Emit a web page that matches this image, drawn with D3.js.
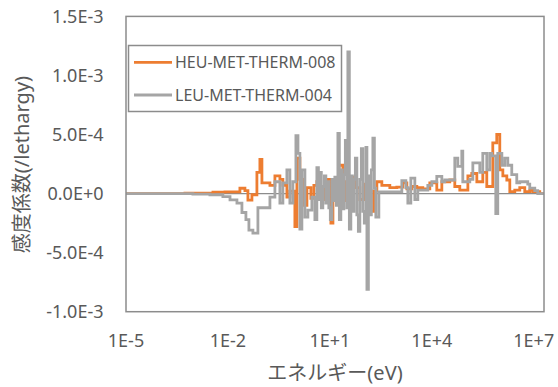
<!DOCTYPE html>
<html><head><meta charset="utf-8">
<script src="https://cdn.jsdelivr.net/npm/d3@7"></script>
<style>
body{margin:0;background:#fff;}
svg{display:block;}
text{font-family:"Noto Sans","Noto Sans CJK JP",sans-serif;fill:#595959;}
</style></head>
<body><svg id="c" width="558" height="387"></svg>
<script>
const seriesNames = ["HEU-MET-THERM-008", "LEU-MET-THERM-004"];
const xTickValues = [1e-5, 1e-2, 1e1, 1e4, 1e7];
const xTickLabels = ["1E-5", "1E-2", "1E+1", "1E+4", "1E+7"];
const yTickValues = [-1e-3, -5e-4, 0, 5e-4, 1e-3, 1.5e-3];
const yTickLabels = ["-1.0E-3", "-5.0E-4", "0.0E+0", "5.0E-4", "1.0E-3", "1.5E-3"];
const xTitle = "エネルギー(eV)";
const yTitle = "感度係数(/lethargy)";
const eMax = 2e7;

// HEU-MET-THERM-008: lower group energy (eV) and sensitivity per lethargy
const heuE = [1e-5,5.43e-4,3.62e-3,8.15e-3,2.25e-2,3.16e-2,3.87e-2,5.08e-2,7.12e-2,8.72e-2,
  0.1,0.172,0.241,0.338,0.414,0.543,0.665,0.933,1.07,1.31,1.61,2.11,2.76,3.38,4.14,4.74,7.12,8.72,
  10.7,12.3,15.0,18.4,24.1,29.5,38.7,47.4,58.1,76.2,100,131,161,197,241,338,581,933,
  1.4e3,1.84e3,2.58e3,3.62e3,5.43e3,8.72e3,1.4e4,1.97e4,3.38e4,4.74e4,6.65e4,1.15e5,1.5e5,2.11e5,
  3.16e5,4.14e5,6.22e5,8.15e5,1e6,1.23e6,1.61e6,1.97e6,2.76e6,3.87e6,5.43e6,7.62e6,9.33e6,1.5e7];
const heuV = [0,4e-6,1.2e-5,1.5e-5,4.5e-5,2.5e-5,-5.5e-5,-1e-5,1.8e-4,2.9e-4,
  9e-5,7e-5,1.5e-4,1.2e-4,7e-5,-3e-5,2e-5,-2.8e-4,3e-4,1.2e-4,-1e-4,5e-5,-4e-5,7e-5,1e-4,6e-5,-5e-5,1.2e-4,
  -2.5e-4,5e-5,-4e-5,2.4e-4,-6e-5,1e-4,-1e-4,1.4e-4,5e-5,-5e-5,8e-5,3e-5,-1.5e-4,2e-5,1e-4,7e-5,5e-5,5.5e-5,
  9e-5,4e-5,6e-5,5e-5,4e-5,9e-5,3e-5,1e-4,1.15e-4,6e-5,3e-5,1.5e-4,1.7e-4,1e-4,
  1.8e-4,6e-5,4.3e-4,5e-4,2e-4,1.5e-4,1.15e-4,1.6e-5,3e-5,5e-5,1.6e-5,3e-5,1.6e-5,0];

// LEU-MET-THERM-004
const leuE = [1e-5,9.3e-4,2.95e-3,7.1e-3,1.15e-2,1.84e-2,2.58e-2,3.38e-2,4.14e-2,5.43e-2,7.62e-2,
  0.172,0.241,0.338,0.414,0.543,0.665,0.815,1.0,1.15,1.31,1.5,1.84,2.25,2.95,3.62,
  4.14,4.6,5.1,5.6,6.2,6.9,7.6,8.4,9.3,10.3,11.5,12.7,14,15.5,17.2,19,21,23.3,25.8,28.5,31.6,33.8,37.4,
  41.4,45.9,50.8,56.2,62.2,68.8,76.2,84.3,93.3,103,115,123,136,150,166,184,204,225,276,
  1.31e3,1.72e3,1.97e3,2.41e3,3.16e3,3.87e3,7.62e3,1e4,1.4e4,1.97e4,2.41e4,4.74e4,5.81e4,7.62e4,8.15e4,
  1.31e5,1.61e5,2.58e5,3.16e5,4.14e5,5.08e5,5.81e5,7.62e5,8.72e5,1.15e6,1.4e6,1.72e6,2.25e6,3.16e6,3.87e6,6.65e6,7.62e6,1.07e7,1.31e7];
const leuV = [0,-4e-6,-1e-5,-2.6e-5,-5.4e-5,-8e-5,-1.6e-4,-2.2e-4,-3.1e-4,-3.35e-4,-1.2e-4,
  -3e-5,1e-4,-8e-5,9e-5,2e-4,-8e-5,1e-4,4.9e-4,3.4e-4,-3e-4,2e-4,-2e-4,-1.4e-4,-3e-5,-2.2e-4,
  2.2e-4,-5e-5,1.8e-4,-1.2e-4,6e-5,1.5e-4,-8e-5,1e-4,-1.2e-4,-2.2e-4,1.2e-4,-6e-5,1.4e-4,-1e-4,5.1e-4,-2.2e-4,2e-4,-1.3e-4,1.6e-4,4.5e-4,-1.2e-4,1.2e-3,-3e-4,
  1.5e-4,-1.5e-4,1.2e-4,3e-4,-1.8e-4,-3.2e-4,1.2e-4,3.8e-4,-1.5e-4,-2.5e-4,3.9e-4,-8.1e-4,1.5e-4,-1.8e-4,2e-4,4.7e-4,4.5e-5,-2e-4,1.5e-5,
  1.1e-4,5e-5,-8e-5,1.3e-4,-5e-5,3e-5,7e-5,1e-4,1.45e-4,1e-4,1.15e-4,3e-4,2.3e-4,3.6e-4,1e-4,
  1.2e-4,2.6e-4,1.8e-4,3.4e-4,2e-4,3.4e-4,3.2e-4,-1.7e-4,3.4e-4,2.4e-4,3e-4,2.4e-4,1.6e-4,9e-5,1e-4,8e-5,4.7e-5,2.5e-5,0];

const colors = ["#ED7D31", "#A5A5A5"];
const svg = d3.select("#c");
const L = 126, R = 544, T = 16.4, B = 311.7;
const x = d3.scaleLog().domain([1e-5, eMax]).range([L, R]);
const y = d3.scaleLinear().domain([-1e-3, 1.5e-3]).range([B, T]);

svg.append("defs").append("clipPath").attr("id","clip")
  .append("rect").attr("x",L).attr("y",T).attr("width",R-L).attr("height",B-T);

// zero axis line
svg.append("line").attr("x1",L).attr("x2",R).attr("y1",y(0)).attr("y2",y(0))
  .attr("stroke","#8c8c8c").attr("stroke-width",1.2);

function pts(E, V){ const p = E.map((e,i)=>[e,V[i]]); p.push([eMax, V[V.length-1]]); return p; }
const line = d3.line().x(d=>x(d[0])).y(d=>y(d[1])).curve(d3.curveStepAfter);
const g = svg.append("g").attr("clip-path","url(#clip)");
[[heuE,heuV],[leuE,leuV]].forEach((s,i)=>{
  g.append("path").attr("d", line(pts(s[0],s[1]))).attr("fill","none")
    .attr("stroke",colors[i]).attr("stroke-width",2.8).attr("stroke-linejoin","miter");
});

// plot border
svg.append("rect").attr("x",L).attr("y",T).attr("width",R-L).attr("height",B-T)
  .attr("fill","none").attr("stroke","#8c8c8c").attr("stroke-width",1.5);

// y ticks
svg.append("g").selectAll("text").data(yTickValues).join("text")
  .attr("x",103.5).attr("y",d=>y(d)).attr("dy","0.35em").attr("text-anchor","end")
  .style("font-size","18px").text((d,i)=>yTickLabels[i]);
// x ticks
svg.append("g").selectAll("text").data(xTickValues).join("text")
  .attr("x",d=>x(d)).attr("y",341).attr("dy","0.35em").attr("text-anchor","middle")
  .style("font-size","18px").text((d,i)=>xTickLabels[i]);

// titles
svg.append("text").attr("x",335).attr("y",373).attr("dy","0.35em").attr("text-anchor","middle")
  .style("font-size","20px").text(xTitle);
svg.append("text").attr("transform","translate(22,164.5) rotate(-90)").attr("dy","0.35em")
  .attr("text-anchor","middle").style("font-size","20px").text(yTitle);

// legend
const lg = svg.append("g");
lg.append("rect").attr("x",128.5).attr("y",45.5).attr("width",213).attr("height",66)
  .attr("fill","#fff").attr("stroke","#8c8c8c").attr("stroke-width",1.5);
seriesNames.forEach((n,i)=>{
  const yy = 62.3 + i*32.7;
  lg.append("line").attr("x1",134).attr("x2",172).attr("y1",yy).attr("y2",yy)
    .attr("stroke",colors[i]).attr("stroke-width",2.8);
  lg.append("text").attr("x",175).attr("y",yy).attr("dy","0.35em").style("font-size","16px").text(n);
});
</script></body></html>
